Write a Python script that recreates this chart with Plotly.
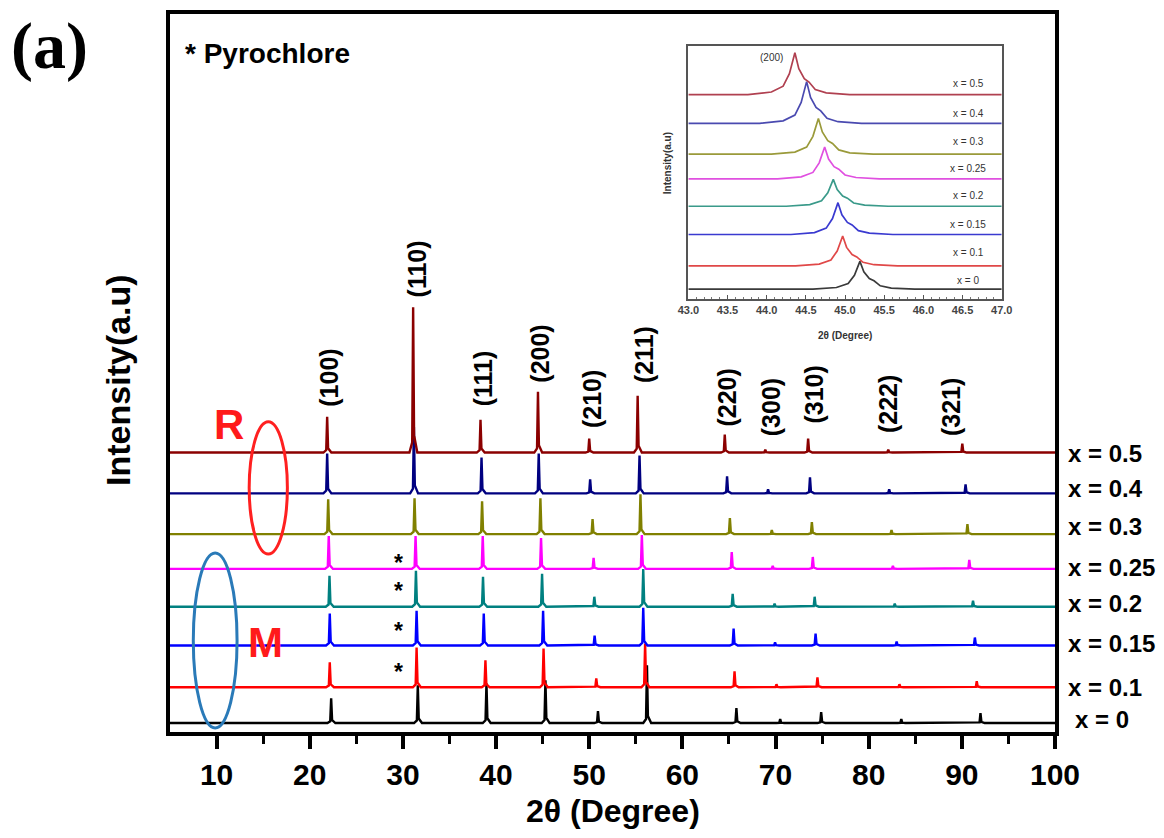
import plotly.graph_objects as go

# ---------------- data ----------------
series_labels = ["x = 0", "x = 0.1", "x = 0.15", "x = 0.2", "x = 0.25", "x = 0.3", "x = 0.4", "x = 0.5"]
colors = ["#000000", "#ff0000", "#0000ff", "#008080", "#ff00ff", "#808000", "#000080", "#8b0000"]
offsets = [9, 45, 87, 126, 164, 199, 240, 281]  # vertical stacking offsets (a.u.)

hkl_labels = ["(100)", "(110)", "(111)", "(200)", "(210)", "(211)", "(220)", "(300)", "(310)", "(222)", "(321)"]

peak_pos = {
    "x = 0":    [22.30, 31.60, 38.97, 45.30, 50.94, 56.20, 65.80, 70.50, 74.90, 83.50, 92.00],
    "x = 0.1":  [22.15, 31.47, 38.86, 45.10, 50.76, 56.00, 65.60, 70.10, 74.50, 83.30, 91.60],
    "x = 0.15": [22.15, 31.47, 38.68, 45.05, 50.58, 55.80, 65.50, 69.95, 74.30, 83.00, 91.40],
    "x = 0.2":  [22.12, 31.40, 38.60, 44.94, 50.55, 55.80, 65.40, 69.90, 74.20, 82.80, 91.20],
    "x = 0.25": [22.04, 31.36, 38.57, 44.83, 50.47, 55.65, 65.30, 69.70, 74.00, 82.60, 90.80],
    "x = 0.3":  [21.98, 31.25, 38.50, 44.76, 50.36, 55.50, 65.10, 69.60, 73.90, 82.45, 90.60],
    "x = 0.4":  [21.87, 31.18, 38.44, 44.58, 50.10, 55.40, 64.80, 69.20, 73.70, 82.20, 90.40],
    "x = 0.5":  [21.87, 31.10, 38.33, 44.50, 50.00, 55.20, 64.55, 68.90, 73.50, 82.10, 90.05],
}
peak_int = {
    "x = 0":    [25, 38, 40, 43, 12, 58, 15, 4, 11, 4, 10],
    "x = 0.1":  [25, 40, 27, 39, 9, 44, 16, 3, 10, 3, 6],
    "x = 0.15": [32, 35, 32, 35, 10, 38, 17, 3, 12, 4, 8],
    "x = 0.2":  [31, 36, 30, 33, 10, 38, 13, 3, 10, 3, 6],
    "x = 0.25": [33, 33, 33, 31, 11, 34, 17, 3, 12, 3, 9],
    "x = 0.3":  [35, 36, 33, 36, 15, 40, 16, 4, 12, 4, 10],
    "x = 0.4":  [40, 67, 36, 40, 14, 38, 17, 4, 16, 4, 9],
    "x = 0.5":  [36, 146, 33, 61, 14, 57, 18, 3, 14, 3, 9],
}

# inset: (200) reflection
inset_pos = [45.19, 44.97, 44.91, 44.85, 44.74, 44.66, 44.51, 44.36]
inset_int = [28, 30, 32, 27, 32, 36, 42, 42]
inset_offsets = [10, 33.4, 65, 93.4, 121, 145.7, 176.7, 205.7]
inset_colors = ["#3a3a3a", "#e04848", "#3a3ad0", "#3a9a8a", "#e050e0", "#9a9a3a", "#4a4ab0", "#b04050"]

# ---------------- helpers ----------------
X0, X1 = 5.0, 100.0

# narrow reflection shape: (2theta offset, fraction of peak height)
SPIKE = [(-0.4, 0.0), (-0.1, 0.07), (0.0, 1.0), (0.1, 0.12), (0.45, 0.0)]


def stick_profile(pos, inten, base):
    xs, ys = [X0], [base]
    for p, h in sorted(zip(pos, inten)):
        for dx, f in SPIKE:
            xs.append(p + dx)
            ys.append(base + f * h)
    xs.append(X1)
    ys.append(base)
    return xs, ys


PROFILE = [(-0.6, 0.0), (-0.3, 0.06), (-0.15, 0.2), (-0.07, 0.5), (0.0, 1.0), (0.05, 0.62),
           (0.12, 0.38), (0.18, 0.3), (0.26, 0.12), (0.4, 0.04), (0.7, 0.0)]


def inset_profile(p, h, base):
    xs, ys = [43.0], [base]
    for dx, f in PROFILE:
        xs.append(p + dx)
        ys.append(base + f * h)
    xs.append(47.0)
    ys.append(base)
    return xs, ys


fig = go.Figure()

for lab, col, off in zip(series_labels, colors, offsets):
    xs, ys = stick_profile(peak_pos[lab], peak_int[lab], off)
    fig.add_trace(go.Scatter(x=xs, y=ys, mode="lines", line=dict(color=col, width=2.4),
                             showlegend=False, hoverinfo="skip", xaxis="x", yaxis="y"))

for p, h, off, col in zip(inset_pos, inset_int, inset_offsets, inset_colors):
    xs, ys = inset_profile(p, h, off)
    fig.add_trace(go.Scatter(x=xs, y=ys, mode="lines", line=dict(color=col, width=1.7),
                             showlegend=False, hoverinfo="skip", xaxis="x2", yaxis="y2"))

FONT = "Liberation Sans, Arial, sans-serif"
ann = []

# right-hand series labels
label_y = [12.7, 45, 89, 129, 165, 207, 245, 280]
for lab, yv in zip(series_labels, label_y):
    ann.append(dict(x=100, y=yv, xref="x", yref="y", text=lab, showarrow=False,
                    xanchor="left", yanchor="middle", xshift=18 if lab == "x = 0" else 11,
                    font=dict(family=FONT, size=24, color="black", weight="bold")))

# hkl labels (vertical)
hkl_y = [356, 466, 356, 380, 335, 379.5, 336, 327, 339, 330, 327]
hkl_x = [22.04, 31.5, 38.64, 44.78, 50.32, 55.83, 64.76, 69.45, 74.1, 82.1, 88.86]
for t, xv, yv in zip(hkl_labels, hkl_x, hkl_y):
    ann.append(dict(x=xv, y=yv, xref="x", yref="y", text=t, showarrow=False, textangle=-90,
                    xanchor="center", yanchor="middle",
                    font=dict(family=FONT, size=25, color="black", weight="bold")))

# pyrochlore asterisks
for yv in [172, 144, 104, 62]:
    ann.append(dict(x=29.5, y=yv, xref="x", yref="y", text="*", showarrow=False,
                    xanchor="center", yanchor="middle", yshift=-2,
                    font=dict(family=FONT, size=23, color="black", weight="bold")))

# R / M phase labels
ann.append(dict(x=11.3, y=309, xref="x", yref="y", text="R", showarrow=False,
                font=dict(family=FONT, size=42, color="#ff1a1a", weight="bold")))
ann.append(dict(x=15.2, y=90, xref="x", yref="y", text="M", showarrow=False,
                font=dict(family=FONT, size=42, color="#ff1a1a", weight="bold")))

# axis titles
ann.append(dict(x=0.5, y=-0.1094, xref="paper", yref="paper", text="2θ (Degree)", showarrow=False,
                xanchor="center", yanchor="middle",
                font=dict(family=FONT, size=32, color="black", weight="bold")))
ann.append(dict(x=-0.0588, y=0.4903, xref="paper", yref="paper", text="Intensity(a.u)", showarrow=False,
                textangle=-90, xanchor="center", yanchor="middle",
                font=dict(family=FONT, size=34, color="black", weight="bold")))

# panel label and legend text
ann.append(dict(x=-0.1367, y=0.9557, xref="paper", yref="paper", text="(a)", showarrow=False,
                xanchor="center", yanchor="middle",
                font=dict(family="Liberation Serif, Times New Roman, serif", size=66, color="black", weight="bold")))
ann.append(dict(x=0.0147, y=0.9446, xref="paper", yref="paper", text="* Pyrochlore", showarrow=False,
                xanchor="left", yanchor="middle",
                font=dict(family=FONT, size=28, color="black", weight="bold")))

# inset annotations
inset_label_y = [18.7, 46.7, 75, 103.7, 131.7, 158.7, 186.7, 216.7]
for lab, yv in zip(series_labels, inset_label_y):
    ann.append(dict(x=46.57, y=yv, xref="x2", yref="y2", text=lab, showarrow=False,
                    xanchor="center", yanchor="middle",
                    font=dict(family=FONT, size=10, color="#333333")))
ann.append(dict(x=44.06, y=243.4, xref="x2", yref="y2", text="(200)", showarrow=False,
                font=dict(family=FONT, size=10, color="#333333")))
ann.append(dict(x=45.0, y=0.5526, xref="x2", yref="paper", text="2θ (Degree)", showarrow=False,
                yanchor="middle", font=dict(family=FONT, size=10, color="#333333", weight="bold")))
ann.append(dict(x=0.5616, y=0.7922, xref="paper", yref="paper", text="Intensity(a.u)", showarrow=False,
                textangle=-90, xanchor="center", yanchor="middle",
                font=dict(family=FONT, size=10, color="#333333", weight="bold")))

shapes = [
    dict(type="circle", xref="x", yref="y", x0=13.5, x1=17.6, y0=179, y1=312,
         line=dict(color="#ff2020", width=3)),
    dict(type="circle", xref="x", yref="y", x0=7.5, x1=12.2, y0=4, y1=180,
         line=dict(color="#2a7ab8", width=3)),
]

fig.update_layout(
    width=1164, height=838,
    margin=dict(l=170, r=109, t=10, b=106),
    paper_bgcolor="white", plot_bgcolor="white",
    showlegend=False,
    annotations=ann, shapes=shapes,
    xaxis=dict(range=[X0, X1], domain=[0, 1], anchor="y", tickvals=[10, 20, 30, 40, 50, 60, 70, 80, 90, 100],
               showline=True, linewidth=4, linecolor="black", mirror=True,
               ticks="outside", ticklen=13, tickwidth=4, tickcolor="black",
               minor=dict(tickvals=[15, 25, 35, 45, 55, 65, 75, 85, 95], ticks="outside", ticklen=8,
                          tickwidth=3, tickcolor="black"),
               tickfont=dict(family=FONT, size=30, color="black", weight="bold"),
               showgrid=False, zeroline=False),
    yaxis=dict(range=[0, 722], domain=[0, 1], anchor="x", showline=True, linewidth=4, linecolor="black",
               mirror=True, showticklabels=False, ticks="", showgrid=False, zeroline=False),
    xaxis2=dict(range=[43, 47], domain=[0.5857, 0.9398], anchor="y2", dtick=0.5, tick0=43,
                tickformat=".1f", ticks="inside", ticklen=4, tickwidth=1, tickcolor="#555",
                minor=dict(dtick=0.1, ticks="inside", ticklen=2, tickcolor="#777"),
                showline=True, linewidth=1.5, linecolor="#555", mirror=True,
                tickfont=dict(family=FONT, size=11, color="#444", weight="bold"),
                showgrid=False, zeroline=False),
    yaxis2=dict(range=[0, 255], domain=[0.6029, 0.9561], anchor="x2", showline=True, linewidth=1.5,
                linecolor="#555", mirror=True, showticklabels=False, ticks="",
                showgrid=False, zeroline=False),
)

fig.write_html("out.html")
